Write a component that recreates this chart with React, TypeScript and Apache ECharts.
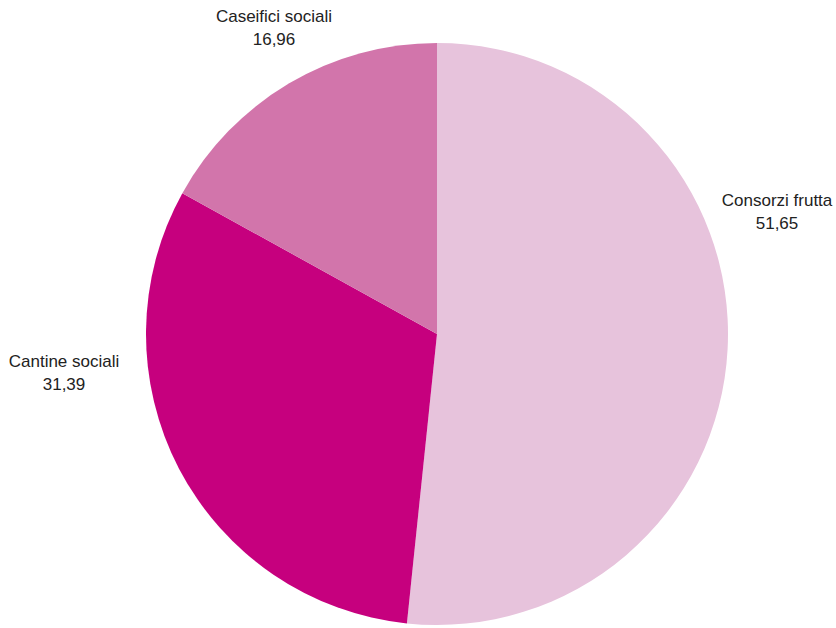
import React, { useEffect, useRef } from "react";
import * as echarts from "echarts";

const categories = ["Consorzi frutta", "Cantine sociali", "Caseifici sociali"];
const values = [51.65, 31.39, 16.96];
const colors = ["#E7C3DC", "#C6007E", "#D275AB"];
const labelCenters: [number, number][] = [
  [777, 212],
  [64, 373],
  [274, 28],
];

export default function App() {
  const ref = useRef<HTMLDivElement>(null);
  useEffect(() => {
    document.body.style.margin = "0";
    const chart = echarts.init(ref.current!, null, { renderer: "svg" });
    chart.setOption({
      animation: false,
      backgroundColor: "#ffffff",
      series: [
        {
          type: "pie",
          center: [437, 334],
          radius: [0, 291],
          startAngle: 90,
          clockwise: true,
          silent: true,
          data: categories.map((c, i) => ({
            name: c,
            value: values[i],
            itemStyle: { color: colors[i] },
          })),
          label: {
            show: true,
            position: "outside",
            formatter: (p: any) =>
              p.name + "\n" + Number(p.value).toFixed(2).replace(".", ","),
            fontFamily: "Liberation Sans, Arial, sans-serif",
            fontSize: 17,
            lineHeight: 23,
            color: "#222222",
            align: "center",
            overflow: "none",
            width: 200,
          },
          labelLine: { show: false },
          labelLayout: (params: any) => {
            const c = labelCenters[params.dataIndex];
            return {
              x: c[0],
              y: c[1],
              align: "center",
              verticalAlign: "middle",
            };
          },
        },
      ],
    });
    return () => chart.dispose();
  }, []);
  return (
    <div
      ref={ref}
      style={{ position: "absolute", left: 0, top: 0, width: 836, height: 628 }}
    />
  );
}
